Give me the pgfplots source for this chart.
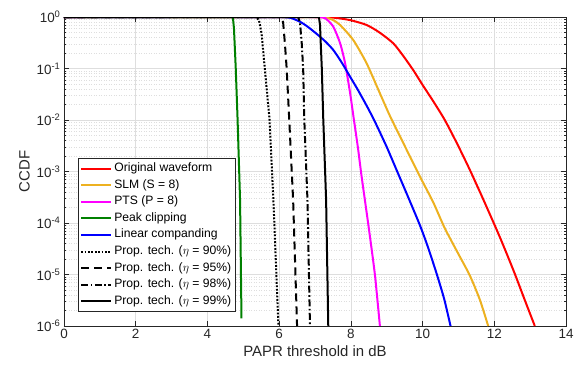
\documentclass[border=0pt]{standalone}
\usepackage{pgfplots}
\pgfplotsset{compat=1.18}
\usepackage{fontspec}
\setmainfont{Liberation Sans}
\definecolor{mlorange}{rgb}{0.929,0.694,0.125}
\definecolor{mlgreen}{rgb}{0,0.5,0}
\definecolor{mlred}{rgb}{1,0,0}
\definecolor{mlblue}{rgb}{0,0,1}
\definecolor{mlmag}{rgb}{1,0,1}
\definecolor{axcol}{rgb}{0.15,0.15,0.15}
\begin{document}
\begin{tikzpicture}
\begin{axis}[
  name=ax,
  scale only axis,
  width=502bp, height=309bp,
  xmin=0, xmax=14, ymin=1e-6, ymax=1,
  ymode=log,
  xtick={0,2,...,14},
  ytick={1e-6,1e-5,1e-4,1e-3,1e-2,1e-1,1},
  yticklabels={10\textsuperscript{-6},10\textsuperscript{-5},10\textsuperscript{-4},10\textsuperscript{-3},10\textsuperscript{-2},10\textsuperscript{-1},10\textsuperscript{0}},
  /pgf/number format/assume math mode=true,
  tick label style={font=\fontsize{13.5}{16}\selectfont, text=axcol},
  label style={font=\fontsize{15}{18}\selectfont, text=axcol},
  xlabel={PAPR threshold in dB},
  ylabel={CCDF},
  grid=both,
  major grid style={line width=0.5bp, color=black!13},
  minor grid style={line width=0.5bp, color=black!13, dash pattern=on 1bp off 1.5bp},
  axis line style={line width=0.6bp, color=axcol},
  tick style={line width=0.6bp, color=axcol},
  major tick length=5bp, minor tick length=2.5bp,
  tick align=inside,
  xtick pos=both, ytick pos=both,
  legend cell align=left,
  legend style={at={(0,0)}, anchor=south west, xshift=14bp, yshift=14bp,
    font=\fontsize{12.2}{14}\selectfont, draw=axcol, line width=0.6bp, fill=white,
    inner xsep=2bp, inner ysep=2bp,
    nodes={text height=8.8bp, text depth=3bp, inner ysep=2.4bp, inner xsep=2bp}},
  legend image code/.code={\draw[#1] plot coordinates {(0bp,0bp) (30bp,0bp)};},
]
% Original waveform
\addplot[mlred, line width=2bp, smooth, tension=0.4] coordinates {(0,1) (6.5,1) (7.0,0.9995) (7.5,0.975) (7.98,0.87) (8.44,0.70) (8.8,0.5) (9.18,0.31) (9.45,0.18) (9.74,0.093) (10.0,0.048) (10.3,0.023) (10.62,0.01) (10.97,3.4e-3) (11.32,1.07e-3) (11.7,2.8e-4) (12.11,6.3e-5) (12.35,2.5e-5) (12.58,1e-5) (12.85,3.2e-6) (13.13,1e-6)};
\addlegendentry{Original waveform}
% SLM
\addplot[mlorange, line width=2bp, smooth, tension=0.4] coordinates {(0,1) (6.8,1) (7.18,0.997) (7.35,0.96) (7.5,0.875) (7.7,0.70) (8.07,0.355) (8.44,0.126) (8.81,0.033) (9.09,0.012) (9.5,3.16e-3) (9.93,7.9e-4) (10.3,2.5e-4) (10.62,7.9e-5) (11.0,2.5e-5) (11.32,9.5e-6) (11.6,3.2e-6) (11.83,1e-6)};
\addlegendentry{SLM (S = 8)}
% PTS
\addplot[mlmag, line width=2bp, smooth, tension=0.4] coordinates {(0,1) (6.9,1) (7.14,0.995) (7.3,0.93) (7.51,0.65) (7.7,0.31) (7.84,0.126) (7.98,0.033) (8.07,0.012) (8.2,2.8e-3) (8.3,8e-4) (8.5,8e-5) (8.67,1e-5) (8.81,1e-6)};
\addlegendentry{PTS (P = 8)}
% Peak clipping
\addplot[mlgreen, line width=2bp] coordinates {(0,1) (4.65,1) (4.71,0.98) (4.74,0.6) (4.79,0.1) (4.84,0.0107) (4.91,2.8e-4) (4.95,1.4e-6)};
\addlegendentry{Peak clipping}
% Linear companding
\addplot[mlblue, line width=2bp, smooth, tension=0.4] coordinates {(0,1) (5.8,1) (6.0,0.999) (6.3,0.97) (6.58,0.81) (6.8,0.645) (7.05,0.468) (7.28,0.339) (7.51,0.229) (7.75,0.129) (7.98,0.069) (8.2,0.038) (8.44,0.019) (8.67,9.3e-3) (9.0,3.0e-3) (9.28,1.05e-3) (9.6,3.16e-4) (9.93,8.9e-5) (10.15,3.4e-5) (10.39,1.05e-5) (10.6,3.4e-6) (10.78,1e-6)};
\addlegendentry{Linear companding}
% Proposed 90%
\addplot[black, line width=2bp, dash pattern=on 1.8bp off 1.6bp] coordinates {(0,1) (5.3,1) (5.37,0.995) (5.44,0.85) (5.51,0.48) (5.6,0.1) (5.73,0.0107) (5.84,2.8e-4) (5.98,1e-6)};
\addlegendentry{Prop. tech. ($\eta$ = 90\%)}
% Proposed 95%
\addplot[black, line width=2bp, dash pattern=on 8bp off 5bp] coordinates {(0,1) (6.0,1) (6.05,0.99) (6.11,0.8) (6.16,0.31) (6.21,0.1) (6.28,0.0107) (6.39,2.8e-4) (6.5,1e-6)};
\addlegendentry{Prop. tech. ($\eta$ = 95\%)}
% Proposed 98%
\addplot[black, line width=2bp, dash pattern=on 7bp off 2.5bp on 1.6bp off 2.5bp] coordinates {(0,1) (6.5,1) (6.53,0.99) (6.58,0.8) (6.63,0.31) (6.67,0.1) (6.7,0.0107) (6.79,2.8e-4) (6.86,1e-6)};
\addlegendentry{Prop. tech. ($\eta$ = 98\%)}
% Proposed 99%
\addplot[black, line width=2bp] coordinates {(0,1) (7.08,1) (7.11,0.99) (7.14,0.7) (7.16,0.31) (7.19,0.1) (7.23,0.0107) (7.31,2.8e-4) (7.37,1e-6)};
\addlegendentry{Prop. tech. ($\eta$ = 99\%)}
\end{axis}
\pgfresetboundingbox
\path ([shift={(-64bp,-41bp)}]ax.south west) rectangle ([shift={(14bp,17bp)}]ax.north east);
\end{tikzpicture}
\end{document}
